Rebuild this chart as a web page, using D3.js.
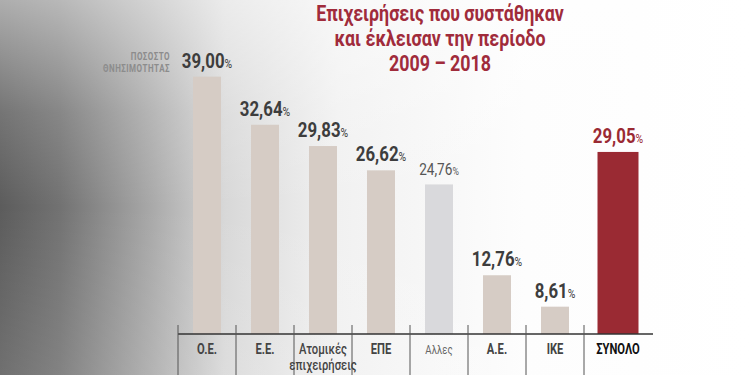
<!DOCTYPE html>
<html>
<head>
<meta charset="utf-8">
<script src="https://cdn.jsdelivr.net/npm/d3@7"></script>
<style>
  body { margin: 0; }
  svg { display: block; }
</style>
</head>
<body>
<svg width="750" height="375"></svg>
<script>
const categories = ["Ο.Ε.", "Ε.Ε.", "Ατομικές επιχειρήσεις", "ΕΠΕ", "Αλλες", "Α.Ε.", "ΙΚΕ", "ΣΥΝΟΛΟ"];
const values = [39.0, 32.64, 29.83, 26.62, 24.76, 12.76, 8.61, 29.05];
const titleLines = ["Επιχειρήσεις που συστάθηκαν", "και έκλεισαν την περίοδο", "2009 – 2018"];
const axisNote = ["ΠΟΣΟΣΤΟ", "ΘΝΗΣΙΜΟΤΗΤΑΣ"];

const svg = d3.select("svg");
const width = +svg.attr("width");
const height = +svg.attr("height");
const baseY = 334;
const font = "Roboto, 'Liberation Sans', sans-serif";
const squeeze = 0.8; // condensed look

// background: grey on the left fading to white
const defs = svg.append("defs");
const lg = defs.append("linearGradient").attr("id", "bg").attr("x1", 0).attr("x2", 1).attr("y1", 0).attr("y2", 0);
[[0, "#5c5c5c"], [0.08, "#727272"], [0.2, "#a8a8a8"], [0.3, "#d8d8d8"], [0.45, "#f1f1f1"], [0.7, "#fdfdfd"], [1, "#ffffff"]]
  .forEach(([o, c]) => lg.append("stop").attr("offset", o).attr("stop-color", c));
const tg = defs.append("linearGradient").attr("id", "topfade").attr("x1", 0).attr("x2", 0).attr("y1", 0).attr("y2", 1);
[[0, 0.5], [0.3, 0.15], [0.55, 0], [1, 0.12]]
  .forEach(([o, a]) => tg.append("stop").attr("offset", o).attr("stop-color", "#fff").attr("stop-opacity", a));

svg.append("rect").attr("width", width).attr("height", height).attr("fill", "url(#bg)");
svg.append("rect").attr("width", width).attr("height", height).attr("fill", "url(#topfade)");

const x = d3.scaleBand().domain(categories).range([178, 642]);
const y = d3.scaleLinear().domain([5, 40]).range([baseY, baseY - 35 * 7.57]);

const data = categories.map((c, i) => ({ cat: c, value: values[i], i: i }));
const isTotal = (d) => d.i === categories.length - 1;
const isOther = (d) => d.i === 4;
const barW = (d) => (isTotal(d) ? 41 : 28);
const cx = (d) => x(d.cat) + x.bandwidth() / 2 + (isTotal(d) ? 5 : 0);

// title
svg.append("g")
  .selectAll("text")
  .data(titleLines)
  .join("text")
  .attr("transform", (d, i) => `translate(440,${21 + i * 25}) scale(0.81,1)`)
  .attr("text-anchor", "middle")
  .attr("font-family", font)
  .attr("font-weight", "bold")
  .attr("font-size", 22)
  .attr("fill", "#a02b3b")
  .text((d) => d);

// axis note
svg.append("g")
  .selectAll("text")
  .data(axisNote)
  .join("text")
  .attr("transform", (d, i) => `translate(170,${60 + i * 12}) scale(${squeeze},1)`)
  .attr("text-anchor", "end")
  .attr("font-family", font)
  .attr("font-weight", "bold")
  .attr("font-size", 10)
  .attr("letter-spacing", 0.6)
  .attr("fill", "#8c8c8c")
  .text((d) => d);

// bars
svg.append("g")
  .selectAll("rect")
  .data(data)
  .join("rect")
  .attr("x", (d) => cx(d) - barW(d) / 2)
  .attr("y", (d) => y(d.value))
  .attr("width", barW)
  .attr("height", (d) => baseY - y(d.value))
  .attr("fill", (d) => (isTotal(d) ? "#9a2a33" : isOther(d) ? "#d9d9dc" : "#d6ccc5"));

// value labels
const lab = svg.append("g")
  .selectAll("text")
  .data(data)
  .join("text")
  .attr("transform", (d) => `translate(${cx(d)},${y(d.value) - 9}) scale(${squeeze},1)`)
  .attr("text-anchor", "middle")
  .attr("font-family", font)
  .attr("fill", (d) => (isTotal(d) ? "#9a2a33" : isOther(d) ? "#555" : "#3d3d3d"));
lab.append("tspan")
  .attr("font-weight", (d) => (isOther(d) ? "normal" : "bold"))
  .attr("font-size", (d) => (isOther(d) ? 17 : 21))
  .text((d) => d.value.toFixed(2).replace(".", ","));
lab.append("tspan")
  .attr("font-size", (d) => (isOther(d) ? 11 : 13))
  .text("%");

// baseline and dividers
svg.append("line")
  .attr("x1", 178).attr("x2", 653)
  .attr("y1", baseY).attr("y2", baseY)
  .attr("stroke", "#333").attr("stroke-width", 1.5);

svg.append("g")
  .selectAll("line")
  .data(categories)
  .join("line")
  .attr("x1", (d) => x(d)).attr("x2", (d) => x(d))
  .attr("y1", baseY - 9).attr("y2", height)
  .attr("stroke", "#555").attr("stroke-width", 1);

// category labels
const cl = svg.append("g")
  .selectAll("text")
  .data(data)
  .join("text")
  .attr("transform", (d) => `translate(${cx(d)},354) scale(${squeeze},1)`)
  .attr("text-anchor", "middle")
  .attr("font-family", font)
  .attr("font-weight", (d) => (isOther(d) ? "normal" : d.cat.includes(" ") ? 500 : "bold"))
  .attr("font-size", (d) => (isOther(d) ? 12 : 14))
  .attr("fill", (d) => (isTotal(d) ? "#111" : isOther(d) ? "#666" : "#444"));
cl.selectAll("tspan")
  .data((d) => d.cat.split(" "))
  .join("tspan")
  .attr("x", 0)
  .attr("dy", (t, i) => (i === 0 ? 0 : 16))
  .text((t) => t);
</script>
</body>
</html>
